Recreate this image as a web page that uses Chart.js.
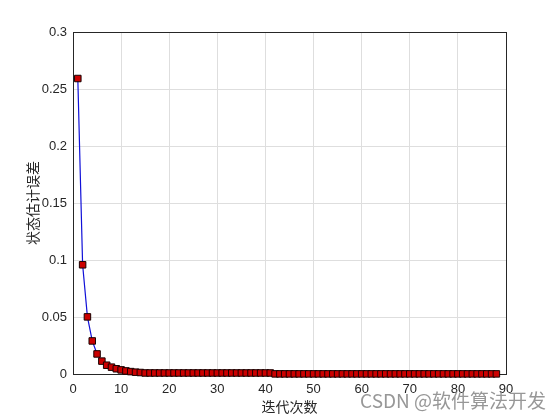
<!DOCTYPE html>
<html>
<head>
<meta charset="utf-8">
<script src="https://cdn.jsdelivr.net/npm/chart.js@4"></script>
<style>
  body { margin: 0; background: #fff; }
  canvas { display: block; }
</style>
</head>
<body>
<canvas id="errChart" width="560" height="420"></canvas>
<script>
// iteration numbers
const iterations = [
  1, 2, 3, 4, 5, 6, 7, 8, 9, 10, 11, 12, 13, 14, 15, 16, 17, 18, 19, 20,
  21, 22, 23, 24, 25, 26, 27, 28, 29, 30, 31, 32, 33, 34, 35, 36, 37, 38, 39, 40,
  41, 42, 43, 44, 45, 46, 47, 48, 49, 50, 51, 52, 53, 54, 55, 56, 57, 58, 59, 60,
  61, 62, 63, 64, 65, 66, 67, 68, 69, 70, 71, 72, 73, 74, 75, 76, 77, 78, 79, 80,
  81, 82, 83, 84, 85, 86, 87, 88
];

// state estimation error
const errValues = [
  0.2592, 0.0958, 0.0501, 0.0290, 0.0176, 0.0113, 0.0077, 0.0060, 0.0046, 0.0036,
  0.0027, 0.0021, 0.0016, 0.0013, 0.0009, 0.0009, 0.0009, 0.0009, 0.0009, 0.0009,
  0.0009, 0.0009, 0.0009, 0.0009, 0.0009, 0.0009, 0.0009, 0.0009, 0.0009, 0.0009,
  0.0009, 0.0009, 0.0009, 0.0009, 0.0009, 0.0009, 0.0009, 0.0009, 0.0009, 0.0009,
  0.0009, 0.0001, 0.0001, 0.0001, 0.0001, 0.0001, 0.0001, 0.0001, 0.0001, 0.0001,
  0.0001, 0.0001, 0.0001, 0.0001, 0.0001, 0.0001, 0.0001, 0.0001, 0.0001, 0.0001,
  0.0001, 0.0001, 0.0001, 0.0001, 0.0001, 0.0001, 0.0001, 0.0001, 0.0001, 0.0001,
  0.0001, 0.0001, 0.0001, 0.0001, 0.0001, 0.0001, 0.0001, 0.0001, 0.0001, 0.0001,
  0.0001, 0.0001, 0.0001, 0.0001, 0.0001, 0.0001, 0.0001, 0.0001
];

const yTickLabels = ['0', '0.05', '0.1', '0.15', '0.2', '0.25', '0.3'];
const xTitle = '迭代次数';
const yTitle = '状态估计误差';
const watermark = 'CSDN @软件算法开发';

const tickFont = { family: '"Liberation Sans", Arial, sans-serif', size: 13 };
const cjkFont = '14px "Noto Sans CJK SC", sans-serif';

// box around the axes + axis titles + watermark
const matlabLook = {
  id: 'matlabLook',
  beforeDatasetsDraw(chart) {
    const { ctx, chartArea: a } = chart;
    ctx.save();
    ctx.strokeStyle = '#262626';
    ctx.lineWidth = 1;
    ctx.strokeRect(Math.round(a.left) + 0.5, Math.round(a.top) + 0.5,
      Math.round(a.right - a.left), Math.round(a.bottom - a.top));
    ctx.restore();
  },
  afterDraw(chart) {
    const { ctx, chartArea: a } = chart;
    ctx.save();
    ctx.fillStyle = '#262626';
    ctx.font = cjkFont;
    ctx.textAlign = 'center';
    ctx.textBaseline = 'middle';
    ctx.fillText(xTitle, (a.left + a.right) / 2, 407);
    ctx.translate(33, (a.top + a.bottom) / 2);
    ctx.rotate(-Math.PI / 2);
    ctx.fillText(yTitle, 0, 0);
    ctx.restore();

    ctx.save();
    ctx.font = '19px "Noto Sans CJK SC", "Liberation Sans", sans-serif';
    ctx.fillStyle = 'rgba(140,140,140,0.9)';
    ctx.textAlign = 'right';
    ctx.textBaseline = 'middle';
    ctx.fillText(watermark, 546, 401);
    ctx.restore();
  }
};

new Chart(document.getElementById('errChart'), {
  type: 'line',
  data: {
    datasets: [{
      data: iterations.map((x, i) => ({ x: x, y: errValues[i] })),
      borderColor: '#1010d8',
      borderWidth: 1.2,
      pointStyle: 'rect',
      pointRadius: 4.6,
      pointBackgroundColor: '#cc0000',
      pointBorderColor: '#1a0000',
      pointBorderWidth: 1,
      tension: 0,
      clip: false
    }]
  },
  options: {
    responsive: false,
    animation: false,
    layout: { padding: { left: 0, top: 32, right: 54, bottom: 0 } },
    plugins: {
      legend: { display: false },
      tooltip: { enabled: false }
    },
    scales: {
      x: {
        type: 'linear',
        min: 0,
        max: 90,
        afterFit(scale) { scale.height = 46; },
        border: { display: false },
        grid: { color: '#dedede', drawTicks: false },
        ticks: { stepSize: 10, padding: 8, color: '#262626', font: tickFont, maxRotation: 0 }
      },
      y: {
        min: 0,
        max: 0.3,
        afterFit(scale) { scale.width = 73; },
        border: { display: false },
        grid: { color: '#dedede', drawTicks: false },
        ticks: {
          stepSize: 0.05,
          padding: 6,
          color: '#262626',
          font: tickFont,
          callback: (v, i) => yTickLabels[i]
        }
      }
    }
  },
  plugins: [matlabLook]
});
</script>
</body>
</html>
